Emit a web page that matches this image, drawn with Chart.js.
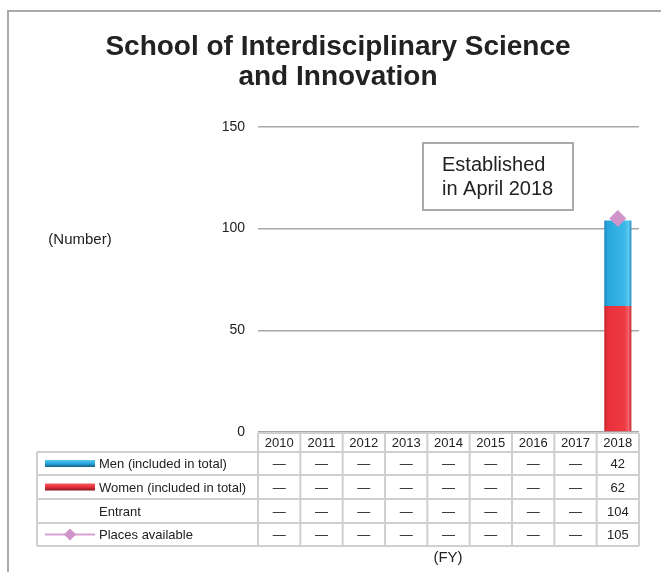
<!DOCTYPE html>
<html>
<head>
<meta charset="utf-8">
<script src="https://cdn.jsdelivr.net/npm/chart.js@4.4.0/dist/chart.umd.min.js"></script>
<style>
  body { margin: 0; background: #fff; }
  #wrap { width: 661px; height: 572px; }
</style>
</head>
<body>
<div id="wrap"><canvas id="schoolChart" width="661" height="572"></canvas></div>
<script>
// Fiscal years
const years = ['2010', '2011', '2012', '2013', '2014', '2015', '2016', '2017', '2018'];
// Men (included in total)
const men = [null, null, null, null, null, null, null, null, 42];
// Women (included in total)
const women = [null, null, null, null, null, null, null, null, 62];
// Entrant (total)
const entrants = [null, null, null, null, null, null, null, null, 104];
// Places available
const places = [null, null, null, null, null, null, null, null, 105];
// y axis ticks
const yTicks = [0, 50, 100, 150];

const FONT = "'Liberation Sans', Arial, sans-serif";
const TEXT = '#222';
const LINE = '#cfcfcf';

const blueStops = ['#1a86bf', '#27a6dc', '#3ab8e8', '#5fcaf0'];
const redStops = ['#c4222b', '#e8303a', '#ee3a43', '#f2626a'];

// Horizontal gradient that gives the bars their tube look
function barGradient(ctx, stops) {
  const chart = ctx.chart;
  const x = chart.scales.x;
  if (!chart.chartArea || !x || ctx.dataIndex === undefined) return stops[1];
  const c = x.getPixelForValue(ctx.dataIndex);
  const half = (x.width / years.length) * 0.64 / 2;
  if (!Number.isFinite(c) || !Number.isFinite(half) || half <= 0) return stops[1];
  const g = chart.ctx.createLinearGradient(c - half, 0, c + half, 0);
  g.addColorStop(0, stops[0]);
  g.addColorStop(0.12, stops[1]);
  g.addColorStop(0.75, stops[2]);
  g.addColorStop(0.9, stops[3]);
  g.addColorStop(1, stops[0]);
  return g;
}

// Draws the frame, the notes and the data table under the plot
const decorations = {
  id: 'decorations',
  afterDraw(chart) {
    const ctx = chart.ctx;
    const x = chart.scales.x;
    const area = chart.chartArea;
    const colW = x.width / years.length;
    const left = 37;
    const right = area.right;

    ctx.save();

    // outer frame
    ctx.strokeStyle = '#aaa';
    ctx.lineWidth = 2;
    ctx.beginPath();
    ctx.moveTo(8, 572);
    ctx.lineTo(8, 11);
    ctx.lineTo(661, 11);
    ctx.stroke();

    // axis units
    ctx.fillStyle = TEXT;
    ctx.font = '15px ' + FONT;
    ctx.textAlign = 'center';
    ctx.textBaseline = 'middle';
    ctx.fillText('(Number)', 80, 240);
    ctx.fillText('(FY)', 448, 558);

    // note box
    ctx.strokeStyle = '#aaa';
    ctx.lineWidth = 2;
    ctx.strokeRect(423, 143, 150, 67);
    ctx.font = '20px ' + FONT;
    ctx.textAlign = 'left';
    ctx.fillText('Established', 442, 165);
    ctx.fillText('in April 2018', 442, 189);

    // table
    const headTop = area.bottom + 1;
    const rows = [452, 475, 499, 523, 546];
    ctx.strokeStyle = LINE;
    ctx.lineWidth = 2;
    ctx.beginPath();
    ctx.moveTo(area.left, headTop);
    ctx.lineTo(right, headTop);
    rows.forEach(y => {
      ctx.moveTo(left, y);
      ctx.lineTo(right, y);
    });
    for (let i = 0; i <= years.length; i++) {
      const xx = area.left + i * colW;
      ctx.moveTo(xx, headTop);
      ctx.lineTo(xx, rows[rows.length - 1]);
    }
    ctx.moveTo(left, rows[0]);
    ctx.lineTo(left, rows[rows.length - 1]);
    ctx.stroke();

    ctx.fillStyle = TEXT;
    ctx.font = '13px ' + FONT;
    ctx.textAlign = 'center';
    years.forEach((yr, i) => {
      ctx.fillText(yr, x.getPixelForValue(i), (headTop + rows[0]) / 2 + 1);
    });

    const series = [men, women, entrants, places];
    const labels = ['Men (included in total)', 'Women (included in total)', 'Entrant', 'Places available'];
    series.forEach((arr, r) => {
      const cy = (rows[r] + rows[r + 1]) / 2 + 1;
      arr.forEach((v, i) => {
        ctx.fillText(v === null ? '\u2014' : String(v), x.getPixelForValue(i), cy);
      });
    });

    // legend cells
    ctx.textAlign = 'left';
    labels.forEach((lab, r) => {
      const cy = (rows[r] + rows[r + 1]) / 2;
      ctx.fillStyle = TEXT;
      ctx.fillText(lab, 99, cy + 1);
      if (r === 0 || r === 1) {
        const st = r === 0 ? blueStops : redStops;
        const g = ctx.createLinearGradient(0, cy - 4, 0, cy + 4);
        g.addColorStop(0, st[3]);
        g.addColorStop(0.5, st[1]);
        g.addColorStop(1, r === 0 ? '#13557a' : '#7a1218');
        ctx.fillStyle = g;
        ctx.fillRect(45, cy - 3.5, 50, 7);
      } else if (r === 3) {
        ctx.strokeStyle = '#d6a2d2';
        ctx.lineWidth = 2;
        ctx.beginPath();
        ctx.moveTo(45, cy);
        ctx.lineTo(95, cy);
        ctx.stroke();
        ctx.fillStyle = '#cf95cb';
        ctx.beginPath();
        ctx.moveTo(70, cy - 6);
        ctx.lineTo(76, cy);
        ctx.lineTo(70, cy + 6);
        ctx.lineTo(64, cy);
        ctx.closePath();
        ctx.fill();
      }
    });

    ctx.restore();
  }
};

new Chart(document.getElementById('schoolChart'), {
  type: 'bar',
  data: {
    labels: years,
    datasets: [
      {
        label: 'Women (included in total)',
        data: women,
        stack: 'entrant',
        backgroundColor: ctx => barGradient(ctx, redStops),
        barPercentage: 0.64,
        categoryPercentage: 1,
        order: 2
      },
      {
        label: 'Men (included in total)',
        data: men,
        stack: 'entrant',
        backgroundColor: ctx => barGradient(ctx, blueStops),
        barPercentage: 0.64,
        categoryPercentage: 1,
        order: 2
      },
      {
        type: 'line',
        label: 'Places available',
        data: places,
        showLine: false,
        pointStyle: 'rectRot',
        pointRadius: 8,
        pointBackgroundColor: '#cf95cb',
        pointBorderColor: '#cf95cb',
        order: 1
      }
    ]
  },
  options: {
    responsive: false,
    animation: false,
    devicePixelRatio: 1,
    layout: { padding: { left: 37, right: 22, top: 0, bottom: 140 } },
    plugins: {
      legend: { display: false },
      tooltip: { enabled: false },
      title: {
        display: true,
        text: ['School of Interdisciplinary Science', 'and Innovation'],
        color: '#222',
        font: { family: FONT, size: 28, weight: 'bold', lineHeight: 1.07 },
        padding: { top: 32, bottom: 35 }
      }
    },
    scales: {
      x: {
        display: false,
        stacked: true
      },
      y: {
        stacked: true,
        min: 0,
        max: 150,
        afterBuildTicks: s => { s.ticks = yTicks.map(v => ({ value: v })); },
        afterFit: s => { s.width = 221; },
        border: { display: false },
        grid: { color: '#a8a8a8', lineWidth: 1.5, drawTicks: false },
        ticks: { color: TEXT, font: { family: FONT, size: 14 }, padding: 13 }
      }
    }
  },
  plugins: [decorations]
});
</script>
</body>
</html>
